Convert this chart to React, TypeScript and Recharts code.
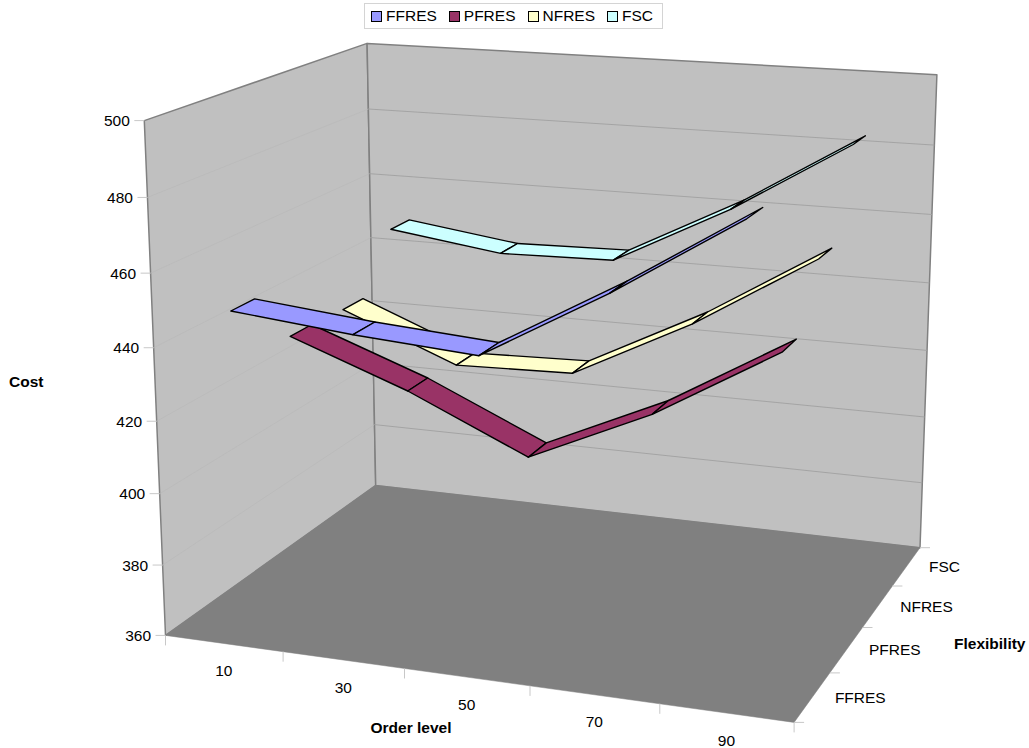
import React from 'react';
import { ComposedChart, Scatter, XAxis, YAxis, Legend } from 'recharts';

const orderLevels = [10, 30, 50, 70, 90];
const flexibility = ['FFRES', 'PFRES', 'NFRES', 'FSC'];
const costTicks = [360, 380, 400, 420, 440, 460, 480, 500];
const ffres = [448.9, 445.6, 443.2, 462.4, 483.8];
const pfres = [433.4, 421.2, 406.1, 421.6, 441.7];
const nfres = [432.7, 419.5, 420.4, 437.7, 458.6];
const fsc = [449.0, 444.4, 445.1, 462.6, 483.4];
const seriesValues = [ffres, pfres, nfres, fsc];
const seriesColors = ['#9999FF', '#993366', '#FFFFCC', '#CCFFFF'];

const W = 1029, H = 748, LEFT = 144, AXIS_H = 1;
const corners: number[][] = [
  [0, 0, 0, 165.3, 635], [1, 0, 0, 794, 723], [0, 1, 0, 376, 486], [1, 1, 0, 920, 547],
  [0, 0, 1, 144.7, 120.5], [0, 1, 1, 366.7, 43.3], [1, 1, 1, 937, 75],
];
function solve(A: number[][], b: number[]) {
  const n = b.length; const M = A.map((r, i) => [...r, b[i]]);
  for (let i = 0; i < n; i++) {
    let m = i; for (let k = i + 1; k < n; k++) if (Math.abs(M[k][i]) > Math.abs(M[m][i])) m = k;
    [M[i], M[m]] = [M[m], M[i]];
    for (let k = 0; k < n; k++) if (k !== i) { const f = M[k][i] / M[i][i]; for (let j = i; j <= n; j++) M[k][j] -= f * M[i][j]; }
  }
  return M.map((r, i) => r[n] / r[i]);
}
const rows: number[][] = []; const rhs: number[] = [];
corners.forEach(([u, v, w, x, y]) => {
  rows.push([1, u, v, w, 0, 0, 0, 0, -x * u, -x * v, -x * w]); rhs.push(x);
  rows.push([0, 0, 0, 0, 1, u, v, w, -y * u, -y * v, -y * w]); rhs.push(y);
});
const ata = Array.from({ length: 11 }, (_, i) => Array.from({ length: 11 }, (_, j) => rows.reduce((s, r) => s + r[i] * r[j], 0)));
const atb = Array.from({ length: 11 }, (_, i) => rows.reduce((s, r, k) => s + r[i] * rhs[k], 0));
const p = solve(ata, atb);
function P(u: number, v: number, w: number) {
  const d = 1 + p[8] * u + p[9] * v + p[10] * w;
  return [(p[0] + p[1] * u + p[2] * v + p[3] * w) / d, (p[4] + p[5] * u + p[6] * v + p[7] * w) / d];
}
const wOf = (c: number) => (c - 360) / 140;

type Item = { x: number; y: number; poly: number[][]; fill: string; stroke: string; sw: number };
const item = (poly: number[][], fill: string, stroke: string, sw: number): Item => ({ x: poly[0][0], y: poly[0][1], poly, fill, stroke, sw });
const Shape = (s: any) => {
  const q = s.payload.poly as number[][];
  const d = 'M' + q.map((a) => a[0].toFixed(1) + ',' + a[1].toFixed(1)).join('L') + (s.payload.fill !== 'none' ? 'Z' : '');
  return <path d={d} fill={s.payload.fill} stroke={s.payload.stroke} strokeWidth={s.payload.sw} strokeLinejoin="round" />;
};

const frame: Item[] = [
  item([P(0, 0, 0), P(0, 1, 0), P(0, 1, 1), P(0, 0, 1)], '#C0C0C0', '#808080', 1.5),
  item([P(0, 1, 0), P(1, 1, 0), P(1, 1, 1), P(0, 1, 1)], '#C0C0C0', '#808080', 1.5),
  item([P(0, 0, 0), P(1, 0, 0), P(1, 1, 0), P(0, 1, 0)], '#808080', '#808080', 0.5),
];
costTicks.slice(1, -1).forEach((c) => {
  frame.push(item([P(0, 0, wOf(c)), P(0, 1, wOf(c))], 'none', '#B9B9B9', 0.7));
  frame.push(item([P(0, 1, wOf(c)), P(1, 1, wOf(c))], 'none', '#A0A0A0', 0.9));
});
[0, 1, 2, 3, 4, 5].forEach((i) => { const a = P(i / 5, 0, 0); frame.push(item([a, [a[0], a[1] + 10]], 'none', '#C8C8C8', 1)); });
[0, 1, 2, 3, 4].forEach((i) => { const a = P(1, i / 4, 0); frame.push(item([a, [a[0] + 10, a[1]]], 'none', '#C8C8C8', 1)); });

const HALF = 0.05;
const ribbon = (si: number): Item[] => {
  const v = (si + 0.5) / 4; const vals = seriesValues[si]; const out: Item[] = [];
  for (let j = 0; j < vals.length - 1; j++) {
    const u0 = (j + 0.5) / 5, u1 = (j + 1.5) / 5, w0 = wOf(vals[j]), w1 = wOf(vals[j + 1]);
    out.push(item([P(u0, v - HALF, w0), P(u1, v - HALF, w1), P(u1, v + HALF, w1), P(u0, v + HALF, w0)], seriesColors[si], '#000', 1.4));
  }
  return out;
};

const font = '"Liberation Sans", Arial, sans-serif';
const FS = 15.5;
const yTicks = costTicks.map((c) => P(0, 0, wOf(c))[1]);
const xTicks = orderLevels.map((_, i) => P((i + 0.5) / 5, 0, 0)[0]);
const dTicks = flexibility.map((_, i) => P(1, (i + 0.5) / 4, 0)[0]);

const YTick = (t: any) => {
  const i = t.index; const a = P(0, 0, wOf(costTicks[i]));
  return <g><line x1={a[0]} y1={a[1]} x2={a[0] - 10} y2={a[1]} stroke="#C8C8C8" />
    <text x={a[0] - 14.5} y={a[1]} textAnchor="end" dominantBaseline="central" fontFamily={font} fontSize={FS} fill="#000">{costTicks[i]}</text></g>;
};
const XTick = (t: any) => {
  const i = t.index; const a = P((i + 0.5) / 5, 0, 0);
  return <text x={a[0]} y={a[1] + 27} textAnchor="middle" dominantBaseline="central" fontFamily={font} fontSize={FS} fill="#000">{orderLevels[i]}</text>;
};
const DTick = (t: any) => {
  const i = t.index; const a = P(1, (i + 0.5) / 4, 0);
  return <text x={a[0] + 22.5} y={a[1]} textAnchor="start" dominantBaseline="central" fontFamily={font} fontSize={FS} fill="#000">{flexibility[i]}</text>;
};
const title = (s: string, x: number, y: number, anchor: string) => () => (
  <text x={x} y={y} textAnchor={anchor as any} dominantBaseline="central" fontFamily={font} fontWeight="bold" fontSize={FS} fill="#000">{s}</text>
);
const LegendBox = () => (
  <div style={{ boxSizing: 'border-box', width: 299, height: 26, border: '1px solid #D4D4D4', display: 'flex', alignItems: 'center', fontFamily: font, fontSize: FS, color: '#000', paddingLeft: 6 }}>
    {flexibility.map((n, i) => (
      <span key={n} style={{ display: 'flex', alignItems: 'center', marginRight: 12 }}>
        <span style={{ boxSizing: 'border-box', width: 11, height: 11, border: '1.5px solid #000', background: seriesColors[i], marginRight: 4 }} />{n}
      </span>
    ))}
  </div>
);

export default function App() {
  return (
    <div style={{ position: 'absolute', left: 0, top: 0, width: W, height: H }}>
      <ComposedChart width={W} height={H} margin={{ top: 0, right: 0, bottom: 0, left: 0 }}>
        <XAxis xAxisId="order" type="number" dataKey="x" domain={[LEFT, W]} ticks={xTicks} interval={0} height={AXIS_H} axisLine={false} tickLine={false} tick={XTick} label={{ content: title('Order level', 411, 727, 'middle') } as any} />
        <XAxis xAxisId="depth" type="number" dataKey="x" domain={[LEFT, W]} ticks={dTicks} interval={0} height={AXIS_H} axisLine={false} tickLine={false} tick={DTick} label={{ content: title('Flexibility', 954, 643, 'start') } as any} />
        <YAxis type="number" dataKey="y" domain={[0, H - 2 * AXIS_H]} reversed ticks={yTicks} interval={0} width={LEFT} axisLine={false} tickLine={false} tick={YTick} label={{ content: title('Cost', 9, 381, 'start') } as any} />
        <Legend layout="horizontal" verticalAlign="middle" wrapperStyle={{ top: 3, left: 364, width: 299, height: 26 }} content={LegendBox} />
        <Scatter xAxisId="order" data={frame} shape={Shape} isAnimationActive={false} legendType="none" />
        {[3, 2, 1, 0].map((si) => (
          <Scatter key={si} xAxisId="depth" name={flexibility[si]} data={ribbon(si)} shape={Shape} isAnimationActive={false} />
        ))}
      </ComposedChart>
    </div>
  );
}
